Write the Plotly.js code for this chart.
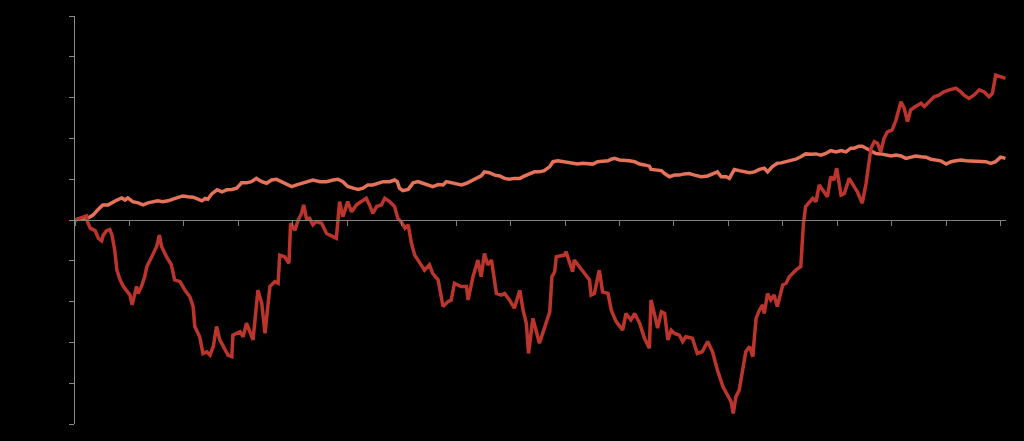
<!DOCTYPE html>
<html>
<head>
<meta charset="utf-8">
<script src="https://cdn.plot.ly/plotly-3.0.1.min.js"></script>
<style>html,body{margin:0;padding:0;background:#000;}#chart{width:1024px;height:441px;}</style>
</head>
<body>
<div id="chart"></div>
<script>
// x: years since start of period; y: cumulative change (units, ticks every 10)
const redX = [0.00,0.12,0.21,0.23,0.28,0.37,0.43,0.49,0.52,0.58,0.64,0.68,0.73,0.77,0.83,0.89,0.95,1.01,1.05,1.09,1.13,1.16,1.22,1.28,1.32,1.41,1.50,1.55,1.59,1.68,1.77,1.83,1.93,2.02,2.11,2.17,2.20,2.29,2.35,2.42,2.48,2.54,2.60,2.66,2.72,2.81,2.88,2.90,3.03,3.09,3.15,3.21,3.27,3.36,3.43,3.49,3.58,3.67,3.73,3.76,3.85,3.93,3.96,4.04,4.10,4.16,4.20,4.25,4.31,4.37,4.43,4.53,4.62,4.71,4.80,4.86,4.92,5.01,5.08,5.17,5.26,5.35,5.41,5.47,5.54,5.63,5.69,5.78,5.87,5.93,5.99,6.06,6.12,6.18,6.24,6.33,6.42,6.51,6.57,6.67,6.76,6.85,6.91,6.97,7.09,7.19,7.22,7.31,7.40,7.46,7.52,7.58,7.65,7.74,7.83,7.89,7.98,8.07,8.17,8.23,8.29,8.33,8.41,8.53,8.59,8.66,8.72,8.76,8.81,8.84,8.90,8.99,9.02,9.08,9.14,9.17,9.27,9.36,9.45,9.48,9.54,9.63,9.69,9.79,9.85,9.94,10.06,10.12,10.21,10.28,10.37,10.46,10.55,10.58,10.64,10.70,10.77,10.83,10.89,10.95,11.01,11.10,11.16,11.22,11.34,11.43,11.52,11.62,11.71,11.80,11.90,11.99,12.05,12.09,12.14,12.20,12.26,12.32,12.39,12.45,12.48,12.51,12.57,12.63,12.66,12.72,12.78,12.84,12.90,13.00,13.06,13.12,13.18,13.24,13.33,13.38,13.42,13.49,13.55,13.61,13.67,13.73,13.82,13.88,13.94,13.99,14.07,14.13,14.22,14.31,14.37,14.46,14.53,14.62,14.68,14.74,14.80,14.86,14.92,15.01,15.08,15.17,15.23,15.29,15.35,15.44,15.54,15.60,15.69,15.78,15.87,15.96,16.06,16.18,16.27,16.33,16.42,16.51,16.61,16.70,16.79,16.85,16.91,17.00,17.09];
const redY = [0.0,0.7,1.0,-0.4,-2.0,-2.6,-4.5,-5.1,-3.7,-2.6,-2.3,-3.7,-7.4,-12.3,-14.7,-16.3,-17.2,-18.4,-20.8,-18.8,-16.3,-18.0,-16.3,-13.9,-11.4,-9.0,-6.5,-3.7,-6.5,-9.0,-11.0,-14.7,-15.1,-17.2,-18.8,-21.2,-26.1,-28.6,-32.7,-32.3,-33.1,-31.0,-26.1,-29.4,-31.0,-33.1,-33.5,-28.2,-27.4,-28.6,-25.3,-27.4,-29.4,-17.2,-20.4,-27.8,-16.3,-15.1,-15.5,-8.6,-9.0,-10.6,-0.8,-2.5,0.0,1.6,3.7,0.4,0.4,-1.2,-0.4,-0.8,-3.3,-3.9,-4.5,4.5,0.8,4.5,2.0,3.7,4.5,5.3,3.7,1.6,3.3,3.7,5.3,4.5,3.3,0.4,-0.4,-2.0,-1.2,-5.7,-8.6,-10.6,-12.3,-11.0,-13.1,-14.7,-21.2,-20.0,-19.6,-15.5,-16.3,-16.3,-19.6,-13.9,-9.8,-13.9,-8.2,-11.0,-9.8,-18.0,-18.4,-18.0,-19.6,-21.6,-17.2,-22.1,-25.3,-32.7,-24.1,-30.2,-27.8,-25.3,-22.5,-13.9,-12.7,-9.0,-8.8,-8.6,-7.8,-10.2,-12.7,-9.8,-11.4,-13.1,-14.7,-18.4,-18.0,-12.3,-17.6,-18.0,-22.1,-24.9,-27.0,-22.9,-24.5,-22.9,-25.3,-29.0,-31.4,-19.6,-22.9,-26.5,-22.5,-22.9,-29.4,-27.0,-27.8,-28.2,-29.8,-28.6,-29.0,-32.7,-32.3,-29.8,-32.3,-36.8,-40.8,-42.9,-44.5,-47.4,-43.3,-41.7,-36.8,-32.3,-31.0,-33.5,-28.6,-24.1,-22.1,-20.8,-22.9,-18.0,-19.6,-18.4,-21.2,-15.9,-15.5,-13.9,-13.1,-12.3,-11.4,-0.8,3.3,4.5,5.3,4.5,8.6,7.4,5.7,10.6,9.8,12.7,6.1,6.5,10.2,8.2,6.9,4.1,9.0,17.6,19.2,18.8,16.7,20.0,21.6,22.1,24.5,29.0,27.4,24.1,27.0,27.8,28.6,27.8,29.0,30.2,30.6,31.4,31.9,32.3,31.4,30.6,29.8,30.6,31.9,31.4,30.2,31.0,35.5,35.1,34.7];

const salmonX = [0.00,0.09,0.24,0.33,0.42,0.51,0.61,0.70,0.77,0.86,0.92,0.97,1.06,1.16,1.25,1.34,1.43,1.52,1.61,1.71,1.80,1.89,1.98,2.07,2.17,2.26,2.33,2.39,2.44,2.51,2.61,2.70,2.79,2.88,2.97,3.06,3.15,3.24,3.33,3.43,3.52,3.61,3.70,3.79,3.88,3.98,4.07,4.16,4.25,4.37,4.50,4.62,4.74,4.83,4.92,5.01,5.11,5.20,5.29,5.38,5.47,5.57,5.66,5.78,5.87,5.92,5.96,6.02,6.12,6.21,6.30,6.39,6.48,6.57,6.67,6.76,6.82,6.91,7.00,7.10,7.19,7.28,7.37,7.46,7.52,7.61,7.71,7.80,7.89,7.98,8.07,8.17,8.26,8.35,8.44,8.53,8.62,8.72,8.78,8.87,8.96,9.05,9.14,9.23,9.33,9.42,9.51,9.60,9.69,9.79,9.85,9.91,10.00,10.09,10.18,10.28,10.37,10.46,10.55,10.58,10.67,10.77,10.83,10.92,11.01,11.10,11.19,11.28,11.38,11.50,11.62,11.71,11.80,11.87,11.96,12.02,12.11,12.20,12.29,12.39,12.48,12.57,12.66,12.72,12.81,12.90,12.97,13.06,13.15,13.24,13.33,13.42,13.52,13.61,13.70,13.79,13.88,13.98,14.07,14.16,14.25,14.31,14.40,14.46,14.53,14.62,14.71,14.80,14.89,14.99,15.08,15.17,15.26,15.35,15.44,15.54,15.63,15.72,15.81,15.90,16.00,16.09,16.18,16.27,16.36,16.45,16.54,16.64,16.73,16.82,16.91,17.00,17.09];
const salmonY = [0.0,0.4,0.5,1.2,2.5,3.7,3.7,4.5,4.9,5.4,4.9,5.4,4.5,4.2,3.7,4.2,4.5,4.7,4.5,4.7,5.1,5.6,5.9,5.7,5.6,5.1,4.7,5.3,5.1,6.4,7.4,6.9,7.4,7.5,7.8,9.1,9.1,9.4,10.2,9.4,9.0,9.8,10.0,9.4,8.8,8.2,8.6,9.0,9.4,9.8,9.4,9.4,9.8,10.0,9.4,8.2,7.8,7.5,7.8,8.6,8.6,9.0,9.4,9.4,9.8,9.4,7.8,7.2,7.5,9.1,9.4,9.0,8.6,8.2,8.7,8.6,9.4,9.1,9.0,8.6,9.0,9.6,10.2,10.8,11.8,11.6,11.0,10.8,10.2,10.0,10.2,10.2,10.8,11.4,11.8,11.8,12.1,13.1,14.3,14.5,14.3,14.3,13.9,13.7,13.9,13.9,13.7,14.3,14.3,14.5,14.9,15.1,14.7,14.5,14.5,14.3,13.7,13.5,13.2,12.4,12.3,12.1,11.4,10.6,11.0,11.0,11.3,11.4,11.0,10.6,10.8,11.4,11.8,10.6,10.6,10.2,12.4,12.1,11.8,11.6,11.8,12.4,12.7,11.8,13.1,13.9,14.0,14.3,14.7,14.9,15.5,16.2,16.1,16.2,15.9,16.3,17.0,16.7,17.0,16.7,17.6,17.6,18.1,18.1,17.6,17.0,16.3,16.2,15.9,15.7,15.9,15.7,15.1,15.4,15.7,15.5,15.4,14.9,14.7,14.5,13.7,14.3,14.5,14.7,14.5,14.5,14.3,14.5,14.3,13.9,14.3,15.4,15.1];

const xTicks = [0,1,2,3,4,5,6,7,8,9,10,11,12,13,14,15,16,17];
const yTicks = [-50,-40,-30,-20,-10,0,10,20,30,40,50];

const traces = [
  {x: salmonX, y: salmonY, type: 'scatter', mode: 'lines',
   line: {color: '#e5735a', width: 3.5}, hoverinfo: 'skip'},
  {x: redX, y: redY, type: 'scatter', mode: 'lines',
   line: {color: '#bb352c', width: 3.5}, hoverinfo: 'skip'}
];

const layout = {
  width: 1024, height: 441,
  paper_bgcolor: '#000', plot_bgcolor: '#000',
  margin: {l: 75, r: 18, t: 16, b: 17},
  showlegend: false,
  xaxis: {
    range: [0, 17.1], tickvals: xTicks, showticklabels: false,
    showgrid: false, zeroline: false,
    showline: true, linecolor: '#808080', linewidth: 1.2,
    ticks: 'outside', ticklen: 5, tickcolor: '#808080', tickwidth: 1,
    anchor: 'free', position: 0.5
  },
  yaxis: {
    range: [-50, 50], tickvals: yTicks, showticklabels: false,
    showgrid: false, zeroline: false,
    showline: true, linecolor: '#8a8a8a', linewidth: 1.2,
    ticks: 'outside', ticklen: 5, tickcolor: '#8a8a8a', tickwidth: 1
  }
};

Plotly.newPlot('chart', traces, layout, {staticPlot: true, displayModeBar: false});
</script>
</body>
</html>
